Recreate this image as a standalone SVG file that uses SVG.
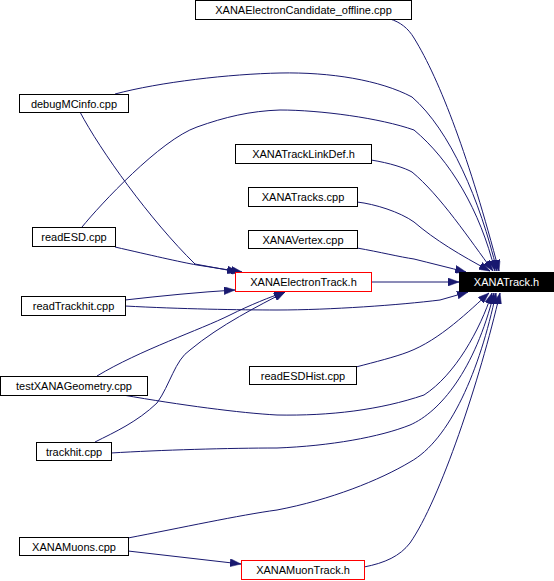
<svg xmlns="http://www.w3.org/2000/svg" width="554" height="581" viewBox="0 0 554 581">
<style>
.n rect{fill:#fff;stroke:#000;stroke-width:1}
.n.r rect{stroke:#f00}
.n.k rect{fill:#000;stroke:#000}
.n text{font-family:"Liberation Sans",Arial,sans-serif;font-size:11px;text-anchor:middle;fill:#000}
.n.k text{fill:#fff}
.e path{fill:none;stroke:#191970;stroke-width:1;marker-end:url(#ah)}
</style>
<defs>
<marker id="ah" markerUnits="userSpaceOnUse" markerWidth="11" markerHeight="8" refX="11" refY="4" orient="auto">
<path d="M0,0 L11,4 L0,8 z" fill="#191970" stroke="#191970" stroke-width="0.5"/>
</marker>
</defs>
<rect width="554" height="581" fill="#fff"/>
<g id="edges" class="e">
<path d="M390,19 C400,22 408,28 414,38 C440,80 470,160 499,271"/>
<path d="M115,94 C160,82 230,74 280,73 C330,72 380,80 412,97 C450,130 480,200 497,271"/>
<path d="M80,112 C100,150 150,220 195,264 L238,272"/>
<path d="M82,227 C100,205 160,140 197,127 C225,117 250,111 280,110 C320,110 380,118 414,130 C450,160 480,210 495,271"/>
<path d="M115,247 C150,255 180,262 197,265 L242,272"/>
<path d="M371,160 C390,163 405,168 412,172 C440,195 470,240 493,271"/>
<path d="M357,202 C375,204 400,212 414,222 C435,240 460,255 490,271"/>
<path d="M357,248 C380,252 400,257 414,259 C430,263 450,268 466,272"/>
<path d="M371,282 L459,282"/>
<path d="M125,300 C160,296 200,292 235,290"/>
<path d="M125,306 C180,309 240,310 277,310 C330,310 400,305 440,300 L468,292"/>
<path d="M356,367 C375,362 395,357 408,352 C440,340 470,310 489,293"/>
<path d="M97,376 C140,350 200,330 230,315 C250,305 270,297 285,292"/>
<path d="M123,395 C180,405 240,413 277,415 C330,416 380,410 424,395 C455,375 480,330 492,293"/>
<path d="M95,442 C115,432 137,422 157,403 C170,385 175,360 190,350 C220,325 260,305 285,292"/>
<path d="M111,453 C160,450 230,448 277,448 C330,446 380,437 410,425 C440,412 475,370 494,293"/>
<path d="M128,538 C180,528 240,515 277,510 C330,500 380,480 410,462 C450,440 480,370 496,293"/>
<path d="M128,551 L241,564"/>
<path d="M364,567 C385,563 400,556 410,543 C440,500 480,380 500,293"/>
</g>
<g id="n_cand" class="n"><rect x="195.5" y="0.5" width="216" height="19"/><text x="303.5" y="14">XANAElectronCandidate_offline.cpp</text></g>
<g id="n_debug" class="n"><rect x="19.5" y="94.5" width="109" height="18"/><text x="74" y="107.5">debugMCinfo.cpp</text></g>
<g id="n_linkdef" class="n"><rect x="235.5" y="144.5" width="136" height="19"/><text x="303.5" y="158">XANATrackLinkDef.h</text></g>
<g id="n_tracks" class="n"><rect x="248.5" y="187.5" width="109" height="19"/><text x="303" y="201">XANATracks.cpp</text></g>
<g id="n_vertex" class="n"><rect x="248.5" y="230.5" width="109" height="18"/><text x="303" y="243.5">XANAVertex.cpp</text></g>
<g id="n_readesd" class="n"><rect x="32.5" y="227.5" width="83" height="19"/><text x="74" y="241">readESD.cpp</text></g>
<g id="n_etrack" class="n r"><rect x="235.5" y="272.5" width="136" height="19"/><text x="303.5" y="286">XANAElectronTrack.h</text></g>
<g id="n_track" class="n k"><rect x="459.5" y="272.5" width="94" height="19"/><text x="506.5" y="286">XANATrack.h</text></g>
<g id="n_readtrackhit" class="n"><rect x="21.5" y="296.5" width="104" height="19"/><text x="73.5" y="310">readTrackhit.cpp</text></g>
<g id="n_readesdhist" class="n"><rect x="249.5" y="366.5" width="107" height="18"/><text x="303" y="379.5">readESDHist.cpp</text></g>
<g id="n_testgeo" class="n"><rect x="0.5" y="376.5" width="147" height="19"/><text x="74" y="390">testXANAGeometry.cpp</text></g>
<g id="n_trackhit" class="n"><rect x="36.5" y="442.5" width="75" height="18"/><text x="74" y="455.5">trackhit.cpp</text></g>
<g id="n_muons" class="n"><rect x="19.5" y="537.5" width="109" height="18"/><text x="74" y="550.5">XANAMuons.cpp</text></g>
<g id="n_muontrack" class="n r"><rect x="241.5" y="560.5" width="123" height="19"/><text x="303" y="574">XANAMuonTrack.h</text></g>
</svg>
